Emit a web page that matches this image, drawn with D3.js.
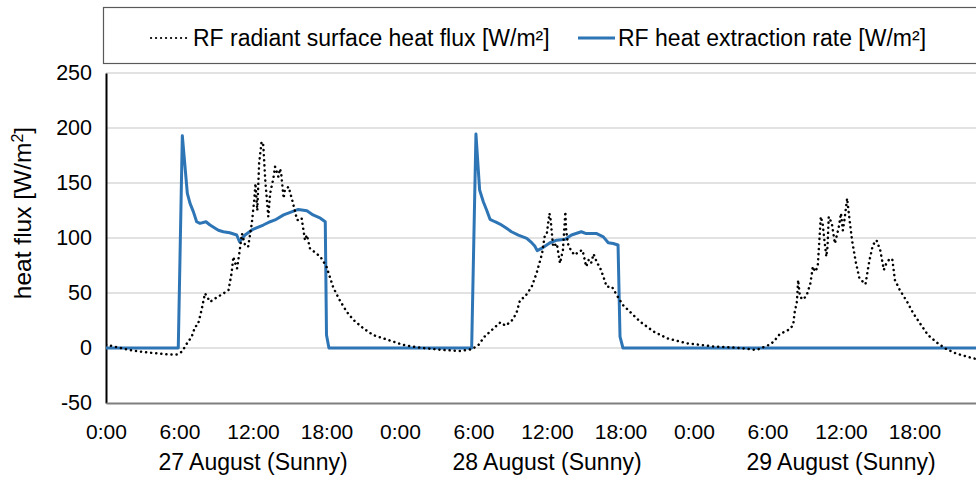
<!DOCTYPE html>
<html>
<head>
<meta charset="utf-8">
<script src="https://cdn.jsdelivr.net/npm/d3@7"></script>
<style>
body { margin: 0; background: #fff; }
svg { display: block; font-family: "Liberation Sans", Arial, sans-serif; }
</style>
</head>
<body>
<svg id="chart" width="976" height="477"></svg>
<script>

// hours from 0:00 on 27 August
var fluxHours = [0,1,2,3.3,4.95,5.77,6.2,6.6,7.0,7.27,7.5,7.8,8.08,8.5,8.9,9.6,10.0,10.25,10.4,10.5,10.7,10.9,11.1,11.35,11.6,11.9,12.1,12.2,12.35,12.5,12.7,12.84,13.0,13.25,13.4,13.66,13.8,14.07,14.2,14.3,14.5,14.6,14.9,15.2,15.6,15.8,15.97,16.16,16.24,16.4,16.65,17.5,18.0,18.55,19.1,19.65,20.2,21,21.8,23.05,24.3,25.6,27.5,28.9,29.85,30.4,30.9,31.5,32.2,32.6,33.1,33.5,33.8,34.2,34.75,35.15,35.6,35.8,35.97,36.2,36.3,36.5,36.65,36.8,37.06,37.3,37.5,37.55,37.7,38.0,38.3,38.55,38.9,39.2,39.4,39.6,39.8,40.1,40.3,40.6,40.87,41.3,41.7,42.2,42.9,43.6,44.7,45.8,47.4,49.5,51.75,53.1,54.1,54.5,55.0,55.4,55.8,56.1,56.2,56.4,56.5,56.65,56.9,57.2,57.5,57.7,57.9,58.1,58.2,58.35,58.5,58.6,58.8,58.9,59.0,59.25,59.5,59.8,60.0,60.15,60.3,60.5,60.7,60.9,61.2,61.5,62.0,62.3,62.6,62.9,63.2,63.5,63.7,64.0,64.2,64.4,64.8,65.4,65.9,66.45,67.1,67.9,68.6,69.4,70.8,71.5];
var fluxValues = [3,0.5,-2,-4,-5.8,-5.8,-3.3,4,10.3,19.4,21,34.5,49.7,42,45,49.7,52.7,68,83,78.5,72.4,87.5,104,93.6,92,113,134.5,149.7,125,168,187.5,184.5,152.7,119.4,140.6,154,164.8,155.7,163,158.8,136,143.6,146.6,134.5,116.4,116.4,118,104,98,102.7,90.6,83,74,55,43,33,25.5,18,11.8,7.3,2.7,0.3,-1.8,-2.7,-1.2,2.7,10.3,16.4,23.4,20.3,24.5,31.5,43.6,46.6,55.7,68,86,101,102.7,122.4,116.4,92,93.6,95,77,89,124,108.8,95,87.5,84.5,87.5,89,74,80,77,85.5,77,74,65,55.7,55.7,48,39,31.5,24,15,8.8,4.3,1.5,0,-1.8,2.7,5.7,12.7,14.8,17,21,31.5,42,61.8,46.6,44,48,58.8,74,69.4,74,92,119.4,113.3,102.7,83,92,119.4,113.3,95,108.8,122.4,107,118,136,116.4,98,78.5,63.4,58,78.5,93.6,98,89,71,77,81.5,80,61.8,52.7,42,31.5,22.4,11.8,4.3,-1,-5,-9.4,-11];

var rateHours = [0,5.9,6.23,6.64,6.86,7.13,7.4,7.67,8.16,8.49,9.17,9.58,10.1,10.67,10.9,11.35,12.0,12.84,13.4,13.8,14.5,15.2,15.7,16.4,16.9,17.5,17.9,18.0,18.2,29.85,30.2,30.5,30.8,31.07,31.35,31.75,32.16,32.7,33.1,33.66,34.35,34.75,35.0,35.2,35.7,36.25,36.8,37.5,38.0,38.8,39.2,40.06,40.6,41.0,41.4,41.8,41.96,42.2,72];
var rateValues = [0,0,193,140.6,131.5,124,114.8,113.3,114.8,111.8,107,105.7,104.8,102.7,96.6,102.7,107.9,111.8,114.8,116.4,121,124,126,124.8,121,118,114.8,11.8,0,0,194.5,143.6,133,125.5,117,114.8,112.7,108.8,105.7,102.7,99.7,95.7,92.7,88.5,91.5,95.7,98,98.8,102.7,105.7,104,104,101,95.7,95,93.6,10.3,0,0];

var xTicks = [0,6,12,18,24,30,36,42,48,54,60,66];
var xTickLabels = ["0:00","6:00","12:00","18:00","0:00","6:00","12:00","18:00","0:00","6:00","12:00","18:00"];
var dayCenters = [12,36,60];
var dayLabels = ["27 August (Sunny)","28 August (Sunny)","29 August (Sunny)"];
var yTicks = [-50,0,50,100,150,200,250];

var svg = d3.select("#chart");

var x = d3.scaleLinear().domain([0,72]).range([106,988]);
var y = d3.scaleLinear().domain([-50,250]).range([403,73]);

svg.append("defs").append("clipPath").attr("id","clip")
    .append("rect").attr("x",106).attr("y",60).attr("width",870).attr("height",360);

// grid
svg.append("g").selectAll("line")
    .data(yTicks.filter(function(d){ return d > -50; }))
    .enter().append("line")
    .attr("x1",106).attr("x2",976)
    .attr("y1",function(d){ return y(d); })
    .attr("y2",function(d){ return y(d); })
    .attr("stroke","#d9d9d9").attr("stroke-width",1.3);

// y axis
var yAxis = svg.append("g").attr("transform","translate(106,0)")
    .call(d3.axisLeft(y).tickValues(yTicks).tickSize(0).tickPadding(14)
        .tickFormat(function(d){ return String(d); }));
yAxis.select(".domain").attr("stroke","#000").attr("stroke-width",2);
yAxis.selectAll("text").attr("font-size",21.5).attr("fill","#000").attr("font-family","Liberation Sans, Arial, sans-serif");

// x axis
var xAxis = svg.append("g").attr("transform","translate(0,403)")
    .call(d3.axisBottom(x).tickValues(xTicks).tickSize(0).tickPadding(21)
        .tickFormat(function(d,i){ return xTickLabels[i]; }));
xAxis.select(".domain").attr("stroke","#7f7f7f").attr("stroke-width",2);
xAxis.selectAll("text").attr("font-size",21).attr("fill","#000").attr("font-family","Liberation Sans, Arial, sans-serif");

svg.append("g").selectAll("text")
    .data(dayLabels)
    .enter().append("text")
    .attr("x",function(d,i){ return x(dayCenters[i]); })
    .attr("y",470)
    .attr("text-anchor","middle")
    .attr("font-size",23)
    .text(function(d){ return d; });

// y title
var yt = svg.append("text")
    .attr("transform","translate(31,213) rotate(-90)")
    .attr("text-anchor","middle")
    .attr("font-size",24.5);
yt.append("tspan").text("heat flux [W/m");
yt.append("tspan").attr("baseline-shift","super").attr("font-size",16).text("2");
yt.append("tspan").text("]");

// lines
var line = d3.line()
    .x(function(d){ return x(d[0]); })
    .y(function(d){ return y(d[1]); });

var fluxData = fluxHours.map(function(h,i){ return [h, fluxValues[i]]; });
var rateData = rateHours.map(function(h,i){ return [h, rateValues[i]]; });

var plot = svg.append("g").attr("clip-path","url(#clip)");

plot.append("path").datum(rateData)
    .attr("d",line)
    .attr("fill","none")
    .attr("stroke","#2e75b6")
    .attr("stroke-width",3)
    .attr("stroke-linejoin","round");

plot.append("path").datum(fluxData)
    .attr("d",line)
    .attr("fill","none")
    .attr("stroke","#000")
    .attr("stroke-width",2.5)
    .attr("stroke-linecap","round")
    .attr("stroke-dasharray","0.1 5");

// legend
var lg = svg.append("g");
lg.append("rect").attr("x",103.5).attr("y",7.5).attr("width",900).attr("height",56)
    .attr("fill","#fff").attr("stroke","#595959").attr("stroke-width",1.2);
lg.append("line").attr("x1",151).attr("x2",188).attr("y1",38).attr("y2",38)
    .attr("stroke","#000").attr("stroke-width",2.2)
    .attr("stroke-linecap","round").attr("stroke-dasharray","0.1 4.9");
lg.append("text").attr("x",193).attr("y",46).attr("font-size",23)
    .text("RF radiant surface heat flux [W/m\u00b2]");
lg.append("line").attr("x1",578).attr("x2",615).attr("y1",38).attr("y2",38)
    .attr("stroke","#2e75b6").attr("stroke-width",3);
lg.append("text").attr("x",618).attr("y",46).attr("font-size",23)
    .text("RF heat extraction rate [W/m\u00b2]");

</script>
</body>
</html>
